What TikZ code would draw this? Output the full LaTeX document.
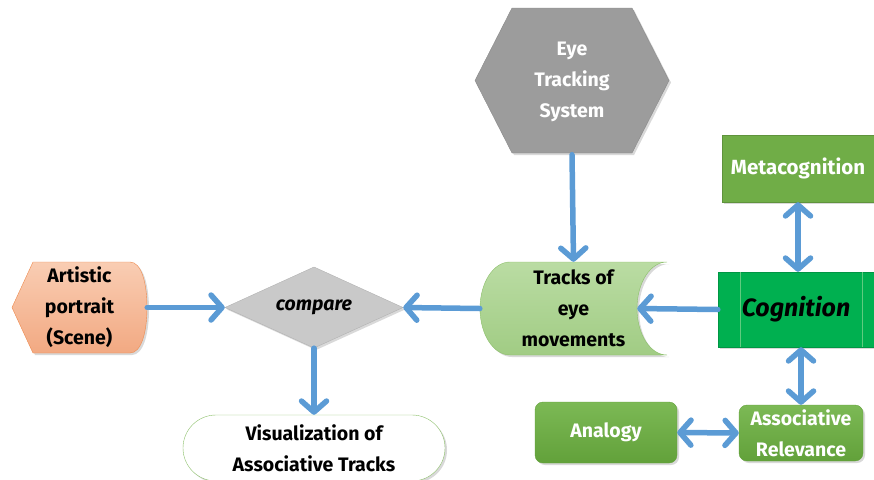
\documentclass[tikz,border=0pt]{standalone}
\usepackage{fontspec}
\setmainfont{Fira Sans}
\usetikzlibrary{arrows.meta,shadows}
\definecolor{arrowblue}{HTML}{5B9BD5}
\definecolor{metagreen}{HTML}{70AD47}
\definecolor{coggreen}{HTML}{00B050}
\definecolor{coglines}{HTML}{5FCB7F}
\definecolor{eyegray}{HTML}{9C9C9C}
\definecolor{eyeedge}{HTML}{8A8A8A}
\definecolor{cmpgray}{HTML}{C9C9C9}
\definecolor{cmpedge}{HTML}{B2B2B2}
\definecolor{arttop}{HTML}{F9CDB3}
\definecolor{artbot}{HTML}{F2A982}
\definecolor{artedge}{HTML}{EE8A4E}
\definecolor{trtop}{HTML}{BADCA3}
\definecolor{trbot}{HTML}{A1CC84}
\definecolor{tredge}{HTML}{8CBF6B}
\definecolor{gtop}{HTML}{7CB955}
\definecolor{gbot}{HTML}{62A13A}
\definecolor{visedge}{HTML}{8CC06A}
\tikzset{
  lbl/.style={font=\fontsize{19.5}{31}\selectfont\bfseries, align=center, inner sep=0pt},
  softshadow/.style={drop shadow={opacity=0.3, shadow xshift=2pt, shadow yshift=-2pt}},
  flow/.style={draw=arrowblue, line width=5.5pt, line cap=round,
    -{Straight Barb[length=11pt,width=25pt,round]}},
  both/.style={draw=arrowblue, line width=5.5pt, line cap=round,
    {Straight Barb[length=11pt,width=25pt,round]}-{Straight Barb[length=11pt,width=25pt,round]}},
  greenbox/.style={lbl, text=white, top color=gtop, bottom color=gbot, draw=gbot, rounded corners=8pt, softshadow},
}
\begin{document}
\begin{tikzpicture}[x=1pt,y=-1pt]
\useasboundingbox (0,0) rectangle (874,479);
\clip (0,0) rectangle (874,479);

% Eye tracking hexagon
\fill[eyegray, draw=eyeedge, softshadow] (475,80.5) -- (512,8) -- (632,8) -- (669,80.5) -- (632,153) -- (512,153) -- cycle;
\node[lbl, text=white, minimum width=194pt, minimum height=145pt] (eye) at (572,82) {Eye\\Tracking\\System};

% Metacognition
\node[lbl, font=\fontsize{20.5}{24}\selectfont\bfseries, text=white, fill=metagreen, draw=metagreen!85!black, minimum width=152pt, minimum height=67pt, softshadow] (meta) at (798,168.5) {Metacognition};

% Cognition
\node[lbl, font=\fontsize{25}{30}\selectfont\bfseries\itshape, fill=coggreen, draw=coggreen!85!black, minimum width=156pt, minimum height=75pt, softshadow] (cog) at (796,309.5) {Cognition};
\draw[coglines, thin] ([xshift=22pt]cog.north west) -- ([xshift=22pt]cog.south west);
\draw[coglines, thin] ([xshift=-12pt]cog.north east) -- ([xshift=-12pt]cog.south east);

% Tracks of eye movements
\path[top color=trtop, bottom color=trbot, draw=tredge, softshadow]
  (510,262) -- (667,262)
  .. controls (650.4,262) and (637,282.6) .. (637,308.5)
  .. controls (637,334.4) and (650.4,355) .. (667,355)
  -- (510,355)
  .. controls (493.4,355) and (480,334.4) .. (480,308.5)
  .. controls (480,282.6) and (493.4,262) .. cycle;
\node[lbl, minimum width=187pt, minimum height=93pt] (tracks) at (573.5,308.5) {Tracks of\\eye\\movements};

% Compare diamond
\fill[cmpgray, draw=cmpedge, softshadow] (225,307.5) -- (314,267) -- (403,307.5) -- (314,348) -- cycle;
\node[lbl, font=\fontsize{19.5}{24}\selectfont\bfseries\itshape, minimum width=178pt, minimum height=81pt] (cmp) at (314,307.5) {compare};

% Artistic portrait
\path[top color=arttop, bottom color=artbot, draw=artedge, softshadow]
  (12,307.5) -- (33,262) -- (130,262)
  .. controls (141,262) and (147,282) .. (147,307.5)
  .. controls (147,333) and (141,353) .. (130,353)
  -- (33,353) -- cycle;
\node[lbl, minimum width=135pt, minimum height=91pt] (art) at (79.5,307.5) {Artistic\\portrait\\(Scene)};

% Visualization
\node[lbl, fill=white, draw=visedge, rounded corners=33pt, minimum width=262pt, minimum height=66pt, softshadow] (vis) at (314,448) {Visualization of\\Associative Tracks};

% Analogy and Associative Relevance
\node[greenbox, minimum width=142pt, minimum height=61pt] (ana) at (606,432.5) {Analogy};
\node[greenbox, minimum width=124pt, minimum height=56pt] (ar) at (801,433) {Associative\\Relevance};

% Connectors
\draw[flow] (eye.south) -- (tracks.north);
\draw[flow] (art.east) -- (cmp.west);
\draw[flow] (tracks.west) -- (cmp.east);
\draw[flow] (cog.west) -- ([xshift=-30pt]tracks.east);
\draw[flow] (cmp.south) -- (vis.north);
\draw[both] (meta.south) -- (meta.south |- cog.north);
\draw[both] (ar.north |- cog.south) -- (ar.north);
\draw[both] (ana.east) -- (ar.west);
\end{tikzpicture}
\end{document}
